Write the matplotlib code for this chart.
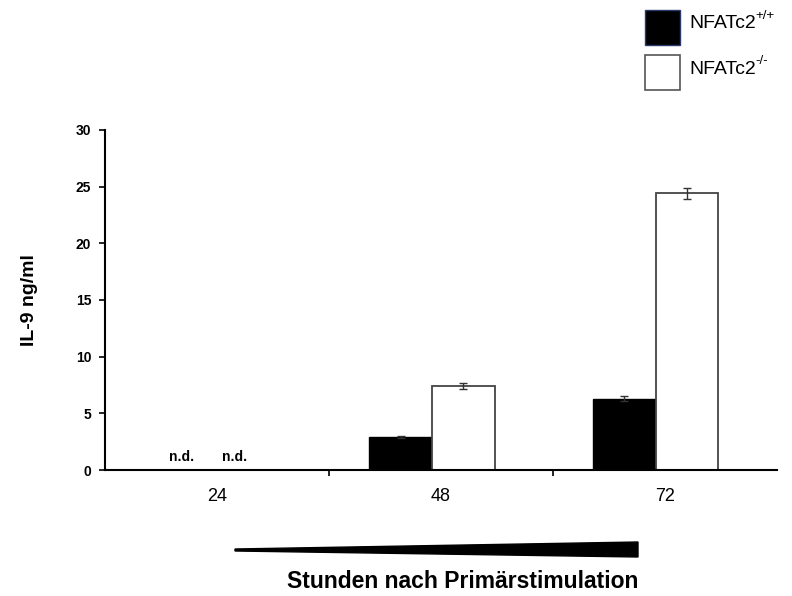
import numpy as np
import matplotlib.pyplot as plt
from matplotlib.patches import Polygon, Rectangle

# Data: IL-9 ng/ml after primary stimulation
hours=['24','48','72']
wildtype=[0.0,2.9,6.3]
wildtypeErr=[0.0,0.08,0.2]
knockout=[0.0,7.4,24.4]
knockoutErr=[0.0,0.25,0.5]
notDetected=[True,False,False]
genotypes=['+/+','-/-']

plt.rcParams['font.family']=['Liberation Sans','DejaVu Sans']

fig=plt.figure(figsize=(7.92,5.96),dpi=100)
ax=fig.add_axes([0.1326,0.2114,0.848,0.5705])

x=np.arange(len(hours))
width=0.28
offset=-0.04
ax.bar(x+offset-width/2,wildtype,width,color='black',edgecolor='black',lw=1,
	yerr=wildtypeErr,error_kw=dict(ecolor='#333333',elinewidth=1,capsize=3,capthick=1))
ax.bar(x+offset+width/2,knockout,width,color='white',edgecolor='#444444',lw=1.3,
	yerr=knockoutErr,error_kw=dict(ecolor='#333333',elinewidth=1,capsize=3,capthick=1))

# n.d. labels where nothing was measured
for i in range(len(hours)):
	if notDetected[i]:
		ax.text(x[i]+offset-width/2+0.02,0.5,'n.d.',ha='center',va='bottom',fontsize=10,fontweight='bold')
		ax.text(x[i]+offset+width/2-0.02,0.5,'n.d.',ha='center',va='bottom',fontsize=10,fontweight='bold')

ax.set_xlim(-0.5,2.5)
ax.set_ylim(0,30)
ax.set_yticks([0,5,10,15,20,25,30])
ax.set_xticks(x)
ax.set_xticklabels(hours,fontsize=13)
ax.set_xticks([0.5,1.5],minor=True)
ax.tick_params(axis='x',which='major',length=0,pad=13)
ax.tick_params(axis='x',which='minor',length=4,width=1.2,direction='out')
ax.tick_params(axis='y',length=4,width=1.2,direction='out',labelsize=10,pad=6)
for label in ax.get_yticklabels():
	label.set_fontweight('bold')
ax.spines['top'].set_visible(False)
ax.spines['right'].set_visible(False)
ax.spines['left'].set_linewidth(1.5)
ax.spines['bottom'].set_linewidth(1.5)
ax.set_ylabel('IL-9 ng/ml',fontsize=14,fontweight='bold',labelpad=27)

# Wedge showing increasing time
wedge=Polygon([(235/792,1-549/596),(235/792,1-551/596),(638/792,1-557/596),(638/792,1-542/596)],
	closed=True,transform=fig.transFigure,facecolor='black',edgecolor='black')
fig.patches.append(wedge)
fig.text(463/792,1-582/596,'Stunden nach Primärstimulation',ha='center',va='center',
	fontsize=16.5,fontweight='bold')

# Legend boxes
fig.patches.append(Rectangle((645/792,1-45/596),35/792,35/596,transform=fig.transFigure,
	facecolor='black',edgecolor='#2a3a6a',lw=1))
fig.patches.append(Rectangle((645/792,1-90/596),35/792,35/596,transform=fig.transFigure,
	facecolor='white',edgecolor='#555555',lw=1.2))
for i in range(len(genotypes)):
	yPos=1-(24+45*i)/596
	fig.text(689/792,yPos,'NFATc2',ha='left',va='center',fontsize=14)
	fig.text(755.5/792,yPos+8/596,genotypes[i],ha='left',va='center',fontsize=9.5)

plt.savefig('out.png',dpi=100)
